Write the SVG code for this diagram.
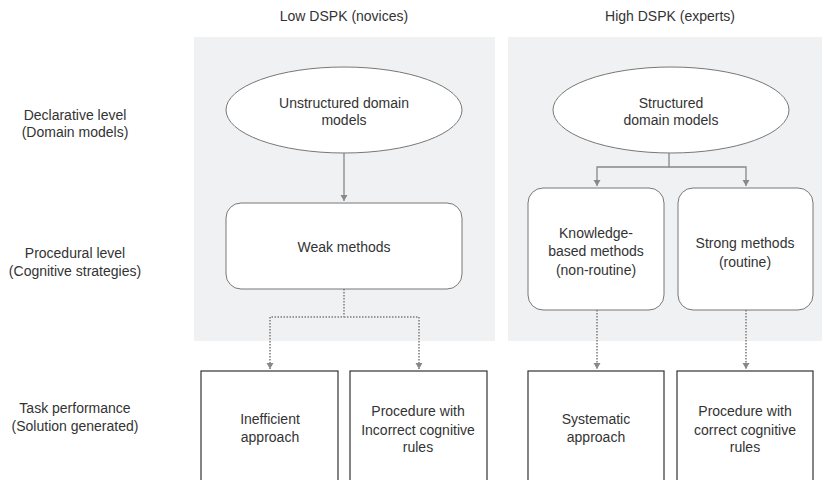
<svg xmlns="http://www.w3.org/2000/svg" width="822" height="480" viewBox="0 0 822 480">
<style>
text{font-family:"Liberation Sans",Arial,sans-serif;font-size:14px;fill:#333;text-anchor:middle}
.panel{fill:#f0f1f3;stroke:none}
.ell{fill:#fff;stroke:#777;stroke-width:1}
.rbox{fill:#fff;stroke:#777;stroke-width:1}
.box{fill:#fff;stroke:#333;stroke-width:1.2}
.solid{fill:none;stroke:#888;stroke-width:1.3}
.dot{fill:none;stroke:#999;stroke-width:2;stroke-dasharray:1.5 1.5}
</style>
<defs>
<marker id="arr" markerWidth="8" markerHeight="8" refX="6" refY="4" orient="auto" markerUnits="userSpaceOnUse">
<path d="M0,0.5 L6,4 L0,7.5 Z" fill="#888"/>
</marker>
</defs>
<rect width="822" height="480" fill="#fff"/>
<g id="headers">
<text x="344" y="21">Low DSPK (novices)</text>
<text x="670" y="21">High DSPK (experts)</text>
</g>
<g id="row-labels">
<text x="75" y="120">Declarative level</text>
<text x="75" y="137">(Domain models)</text>
<text x="75" y="258">Procedural level</text>
<text x="75" y="276">(Cognitive strategies)</text>
<text x="75" y="413">Task performance</text>
<text x="75" y="431">(Solution generated)</text>
</g>
<g id="panels">
<rect class="panel" x="194" y="37" width="301" height="304"/>
<rect class="panel" x="508" y="37" width="314" height="304"/>
</g>
<g id="connectors">
<path class="solid" d="M344,153 V201" marker-end="url(#arr)"/>
<path class="solid" d="M669,152 V167 H597 V186" marker-end="url(#arr)"/>
<path class="solid" d="M669,167 H746 V186" marker-end="url(#arr)"/>
<path class="dot" d="M344,289 V317 H270 V369" marker-end="url(#arr)"/>
<path class="dot" d="M344,317 H419 V369" marker-end="url(#arr)"/>
<path class="dot" d="M597,310 V369" marker-end="url(#arr)"/>
<path class="dot" d="M746,310 V369" marker-end="url(#arr)"/>
</g>
<g id="unstructured">
<ellipse class="ell" cx="344" cy="110" rx="118" ry="43"/>
<text x="344" y="108">Unstructured domain</text>
<text x="344" y="125">models</text>
</g>
<g id="structured">
<ellipse class="ell" cx="671" cy="110" rx="118" ry="43"/>
<text x="671" y="108">Structured</text>
<text x="671" y="125">domain models</text>
</g>
<g id="weak">
<rect class="rbox" x="226" y="203" width="236" height="86" rx="15"/>
<text x="344" y="252">Weak methods</text>
</g>
<g id="knowledge">
<rect class="rbox" x="528" y="188" width="136" height="122" rx="15"/>
<text x="596" y="238">Knowledge-</text>
<text x="596" y="256">based methods</text>
<text x="596" y="275">(non-routine)</text>
</g>
<g id="strong">
<rect class="rbox" x="678" y="188" width="135" height="122" rx="15"/>
<text x="745" y="248">Strong methods</text>
<text x="745" y="267">(routine)</text>
</g>
<g id="inefficient">
<rect class="box" x="201" y="371" width="137" height="120"/>
<text x="270" y="424">Inefficient</text>
<text x="270" y="442">approach</text>
</g>
<g id="incorrect">
<rect class="box" x="350" y="371" width="137" height="120"/>
<text x="418" y="416">Procedure with</text>
<text x="418" y="435">Incorrect cognitive</text>
<text x="418" y="452">rules</text>
</g>
<g id="systematic">
<rect class="box" x="528" y="371" width="136" height="120"/>
<text x="596" y="424">Systematic</text>
<text x="596" y="442">approach</text>
</g>
<g id="correct">
<rect class="box" x="677" y="371" width="136" height="120"/>
<text x="745" y="416">Procedure with</text>
<text x="745" y="435">correct cognitive</text>
<text x="745" y="452">rules</text>
</g>
</svg>
